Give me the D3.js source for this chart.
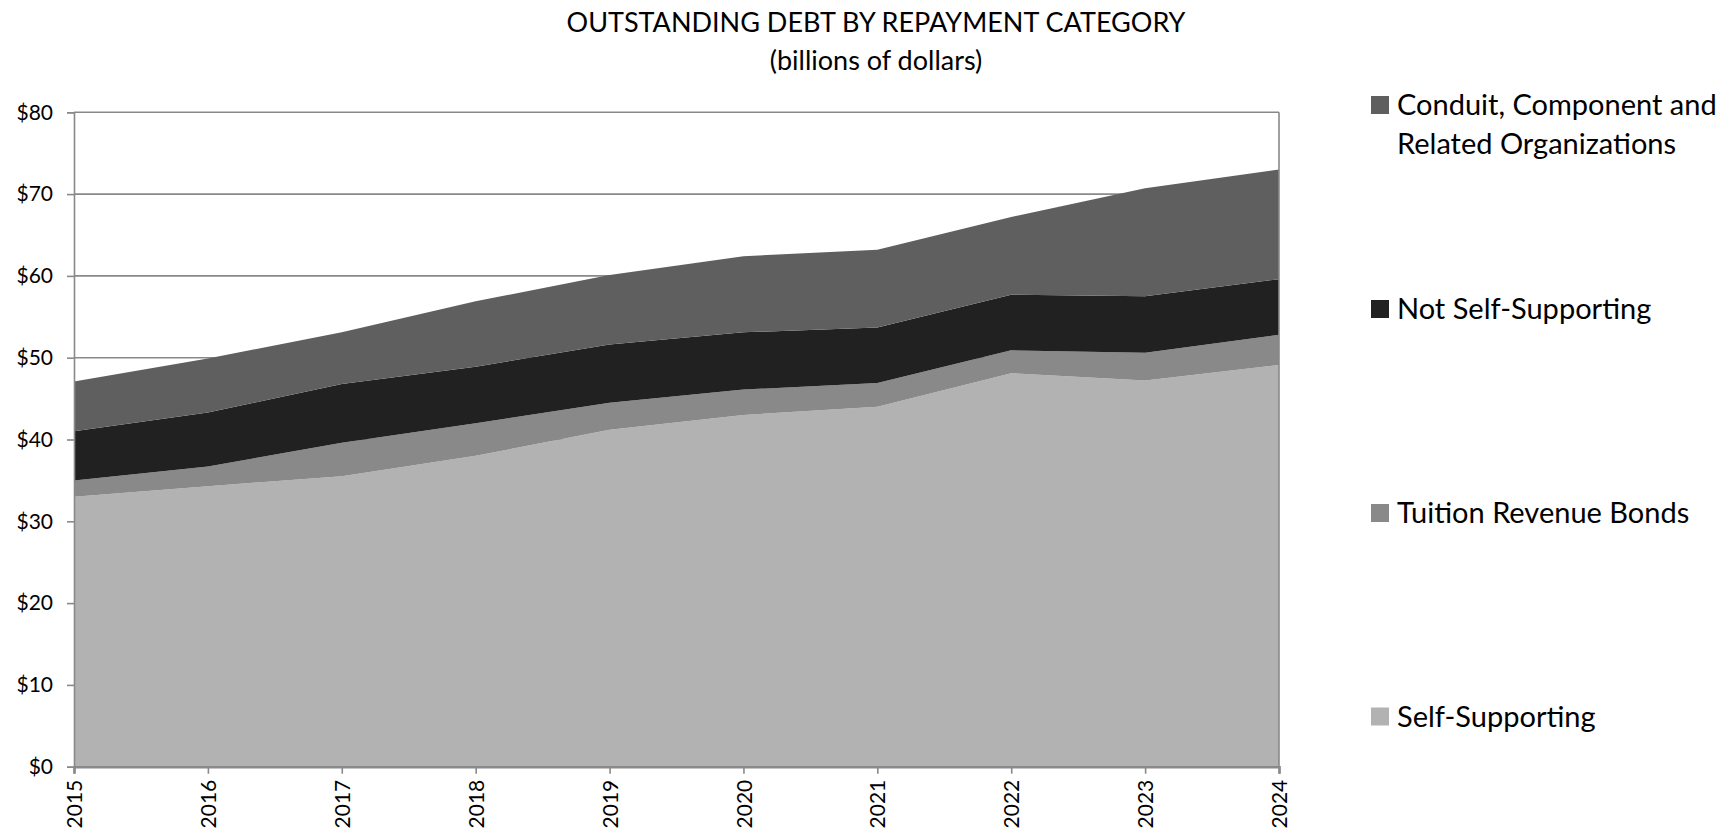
<!DOCTYPE html>
<html>
<head>
<meta charset="utf-8">
<script src="https://cdn.jsdelivr.net/npm/d3@7"></script>
<style>
  html, body { margin: 0; padding: 0; background: #ffffff; }
  svg { display: block; font-family: Lato, "Open Sans", sans-serif; }
</style>
</head>
<body>
<svg id="chart" width="1726" height="833"></svg>
<script>
// Outstanding debt by repayment category, billions of dollars
const years = [2015, 2016, 2017, 2018, 2019, 2020, 2021, 2022, 2023, 2024];
const selfSupporting    = [33.0, 34.3, 35.5, 38.0, 41.2, 43.0, 44.0, 48.1, 47.2, 49.1];
const tuitionRevenue    = [2.0, 2.4, 4.1, 4.0, 3.3, 3.1, 2.9, 2.8, 3.4, 3.7];
const notSelfSupporting = [6.0, 6.6, 7.2, 6.9, 7.1, 7.0, 6.8, 6.8, 6.9, 6.8];
const conduitComponent  = [6.1, 6.6, 6.3, 8.0, 8.5, 9.3, 9.5, 9.5, 13.2, 13.4];

const seriesKeys   = ["self", "tuition", "nss", "conduit"];
const seriesNames  = ["Self-Supporting", "Tuition Revenue Bonds", "Not Self-Supporting", "Conduit, Component and Related Organizations"];
const seriesColors = ["#b2b2b2", "#898989", "#212121", "#5f5f5f"];
const yTicks = [0, 10, 20, 30, 40, 50, 60, 70, 80];

const rows = years.map((yr, i) => ({
  year: yr,
  self: selfSupporting[i],
  tuition: tuitionRevenue[i],
  nss: notSelfSupporting[i],
  conduit: conduitComponent[i]
}));

const svg = d3.select("#chart");
const plot = { left: 74, right: 1279, top: 112.3, bottom: 766.7 };

const x = d3.scaleLinear().domain([years[0], years[years.length - 1]]).range([plot.left, plot.right]);
const y = d3.scaleLinear().domain([0, 80]).range([plot.bottom, plot.top]);

const gridColor = "#898989";

// Title
const title = svg.append("text")
  .attr("x", 876).attr("text-anchor", "middle")
  .attr("font-size", 27).attr("fill", "#000");
title.append("tspan").attr("x", 876).attr("y", 32).text("OUTSTANDING DEBT BY REPAYMENT CATEGORY");
title.append("tspan").attr("x", 876).attr("y", 70).text("(billions of dollars)");

// Horizontal gridlines
svg.append("g")
  .selectAll("line")
  .data(yTicks.filter(d => d > 0))
  .join("line")
  .attr("x1", plot.left).attr("x2", plot.right)
  .attr("y1", d => y(d)).attr("y2", d => y(d))
  .attr("stroke", gridColor).attr("stroke-width", 1.6);

// Stacked areas
const stack = d3.stack().keys(seriesKeys);
const layers = stack(rows);
const area = d3.area()
  .x(d => x(d.data.year))
  .y0(d => y(d[0]))
  .y1(d => y(d[1]))
  .curve(d3.curveLinear);

svg.append("g")
  .selectAll("path")
  .data(layers)
  .join("path")
  .attr("d", area)
  .attr("fill", (d, i) => seriesColors[i]);

// Y axis
const yAxis = d3.axisLeft(y)
  .tickValues(yTicks)
  .tickSize(7)
  .tickPadding(14)
  .tickFormat(d => "$" + d);
const gy = svg.append("g").attr("transform", `translate(${plot.left},0)`).call(yAxis);
gy.select(".domain").attr("stroke", gridColor).attr("stroke-width", 1.6);
gy.selectAll(".tick line").attr("stroke", gridColor).attr("stroke-width", 1.6);
gy.selectAll(".tick text").attr("font-size", 21).attr("fill", "#000")
  .attr("font-family", "Lato, 'Open Sans', sans-serif");

// Right border
svg.append("line")
  .attr("x1", plot.right).attr("x2", plot.right)
  .attr("y1", plot.top).attr("y2", plot.bottom)
  .attr("stroke", gridColor).attr("stroke-width", 1.6);

// X axis
const xAxis = d3.axisBottom(x)
  .tickValues(years)
  .tickSize(7)
  .tickPadding(0)
  .tickFormat(d3.format("d"));
const gx = svg.append("g").attr("transform", `translate(0,${plot.bottom})`).call(xAxis);
gx.select(".domain").attr("stroke", gridColor).attr("stroke-width", 2.6);
gx.selectAll(".tick line").attr("stroke", gridColor).attr("stroke-width", 1.6);
gx.selectAll(".tick text")
  .attr("font-size", 21).attr("fill", "#000")
  .attr("font-family", "Lato, 'Open Sans', sans-serif")
  .attr("text-anchor", "end")
  .attr("transform", "rotate(-90)")
  .attr("x", -13).attr("y", 0).attr("dy", "0.36em");

// Legend (top-down order matches the stacking order)
const legendItems = [
  { idx: 3, lines: ["Conduit, Component and", "Related Organizations"], cy: 105 },
  { idx: 2, lines: ["Not Self-Supporting"], cy: 309 },
  { idx: 1, lines: ["Tuition Revenue Bonds"], cy: 513 },
  { idx: 0, lines: ["Self-Supporting"], cy: 716.5 }
];
const legend = svg.append("g");
legendItems.forEach(item => {
  legend.append("rect")
    .attr("x", 1371).attr("y", item.cy - 9)
    .attr("width", 18).attr("height", 18)
    .attr("fill", seriesColors[item.idx]);
  const t = legend.append("text").attr("font-size", 29).attr("fill", "#000");
  item.lines.forEach((ln, j) => {
    t.append("tspan").attr("x", 1397).attr("y", item.cy + 10 + j * 39).text(ln);
  });
});
</script>
</body>
</html>
